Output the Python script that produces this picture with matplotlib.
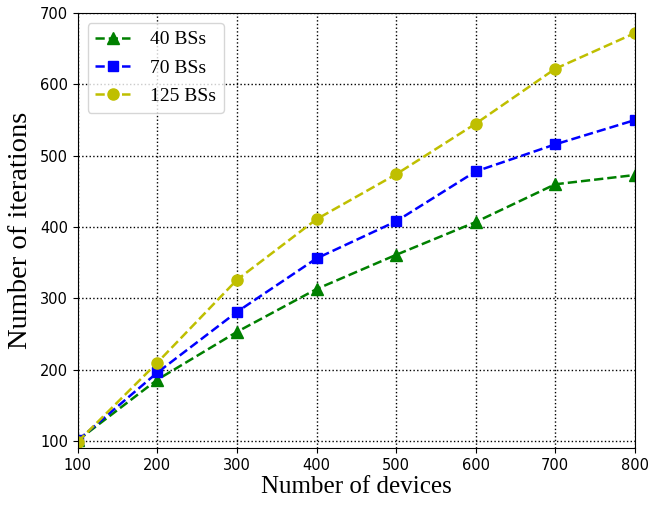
import numpy as np
import matplotlib
matplotlib.use('Agg')
import matplotlib.pyplot as plt

plt.rcParams['font.family'] = ['Liberation Serif', 'DejaVu Serif']

# data
devices = [100, 200, 300, 400, 500, 600, 700, 800]
bs40 = [101, 186, 253, 313, 361, 407, 460, 473]
bs70 = [101, 196, 281, 356, 408, 478, 516, 550]
bs125 = [99, 210, 326, 411, 474, 545, 622, 672]

fig = plt.figure(figsize=(6.49, 5.08), dpi=100)
ax = fig.add_axes([0.12, 0.118, 0.858, 0.856])

ax.plot(devices, bs40, 'g--', marker='^', markersize=8, linewidth=1.8, label='40 BSs')
ax.plot(devices, bs70, 'b--', marker='s', markersize=7, linewidth=1.8, label='70 BSs')
ax.plot(devices, bs125, 'y--', marker='o', markersize=8, linewidth=1.8, label='125 BSs')

ax.set_xlim(100, 800)
ax.set_ylim(90, 700)
ax.set_xticks(np.arange(100, 801, 100))
ax.set_yticks(np.arange(100, 701, 100))
for lab in ax.get_xticklabels() + ax.get_yticklabels():
    lab.set_family('DejaVu Sans')
    lab.set_fontsize(10.5)
ax.grid(True, color='k', linestyle=':', linewidth=1)
ax.set_xlabel('Number of devices', fontsize=18, labelpad=2)
ax.set_ylabel('Number of iterations', fontsize=20.5, labelpad=5)
ax.legend(loc='upper left', fontsize=14, handlelength=1.8, handletextpad=1.0,
          labelspacing=0.55, borderaxespad=0.5)

fig.savefig('out.png', dpi=100)
